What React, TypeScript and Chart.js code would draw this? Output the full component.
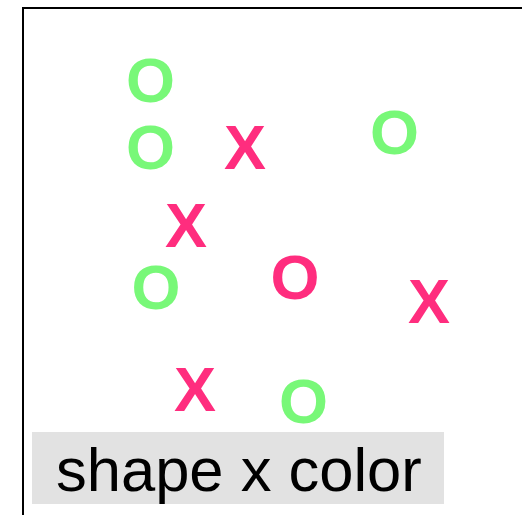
import React, { useEffect, useRef } from "react";
import { Chart, registerables } from "chart.js";

Chart.register(...registerables);

// Data (x: 0..10, y: 0..10)
const greenOX = [2.55, 2.55, 7.43, 2.66, 5.61];
const greenOY = [8.6, 7.3, 7.59, 4.57, 2.36];
const pinkXX = [4.44, 3.26, 8.12, 3.44];
const pinkXY = [7.29, 5.77, 4.3, 2.59];
const pinkOX = [5.44];
const pinkOY = [4.76];

const GREEN = "#78F878";
const PINK = "#FF2D7E";
const legendLabel = "shape x color";

const toPts = (xs: number[], ys: number[]) => xs.map((x, i) => ({ x, y: ys[i] }));

const lettersPlugin = {
  id: "letters",
  afterDatasetsDraw(chart: any) {
    const ctx = chart.ctx;
    ctx.save();
    ctx.font = "bold 63px 'Liberation Sans', Arial, sans-serif";
    ctx.textAlign = "left";
    ctx.textBaseline = "alphabetic";
    chart.data.datasets.forEach((ds: any, di: number) => {
      const meta = chart.getDatasetMeta(di);
      ctx.fillStyle = ds.letterColor;
      const m = ctx.measureText(ds.letter);
      const w = m.actualBoundingBoxLeft + m.actualBoundingBoxRight;
      const h = m.actualBoundingBoxAscent + m.actualBoundingBoxDescent;
      meta.data.forEach((el: any) => {
        const x = el.x - w / 2 + m.actualBoundingBoxLeft;
        const y = el.y + h / 2 - m.actualBoundingBoxDescent;
        ctx.fillText(ds.letter, x, y);
      });
    });
    ctx.restore();
  },
  afterDraw(chart: any) {
    const ctx = chart.ctx;
    const a = chart.chartArea;
    ctx.save();
    ctx.strokeStyle = "#000";
    ctx.lineWidth = 2;
    ctx.strokeRect(a.left, a.top, a.right - a.left + 20, a.bottom - a.top + 20);
    // legend box
    ctx.fillStyle = "#E2E2E2";
    ctx.fillRect(32, 432, 412, 72);
    ctx.fillStyle = "#000";
    ctx.font = "61.5px 'Liberation Sans', Arial, sans-serif";
    ctx.textBaseline = "alphabetic";
    ctx.fillText(legendLabel, 56, 491);
    ctx.restore();
  },
};

export default function App() {
  const ref = useRef<HTMLCanvasElement>(null);
  useEffect(() => {
    if (!ref.current) return;
    const chart = new Chart(ref.current, {
      type: "scatter",
      data: {
        datasets: [
          { label: "O green", data: toPts(greenOX, greenOY), pointRadius: 0, letter: "O", letterColor: GREEN } as any,
          { label: "X pink", data: toPts(pinkXX, pinkXY), pointRadius: 0, letter: "X", letterColor: PINK } as any,
          { label: "O pink", data: toPts(pinkOX, pinkOY), pointRadius: 0, letter: "O", letterColor: PINK } as any,
        ],
      },
      options: {
        animation: false,
        responsive: false,
        devicePixelRatio: 1,
        layout: { padding: { left: 23, top: 8, right: 37, bottom: 37 } },
        scales: {
          x: { type: "linear", min: 0, max: 10, display: false },
          y: { type: "linear", min: 0, max: 10, display: false },
        },
        plugins: { legend: { display: false }, tooltip: { enabled: false } },
      },
      plugins: [lettersPlugin],
    });
    return () => chart.destroy();
  }, []);
  return (
    <div style={{ position: "fixed", left: 0, top: 0, width: 522, height: 515, overflow: "hidden", background: "#fff" }}>
      <canvas ref={ref} width={560} height={560} style={{ display: "block", width: 560, height: 560 }} />
    </div>
  );
}
